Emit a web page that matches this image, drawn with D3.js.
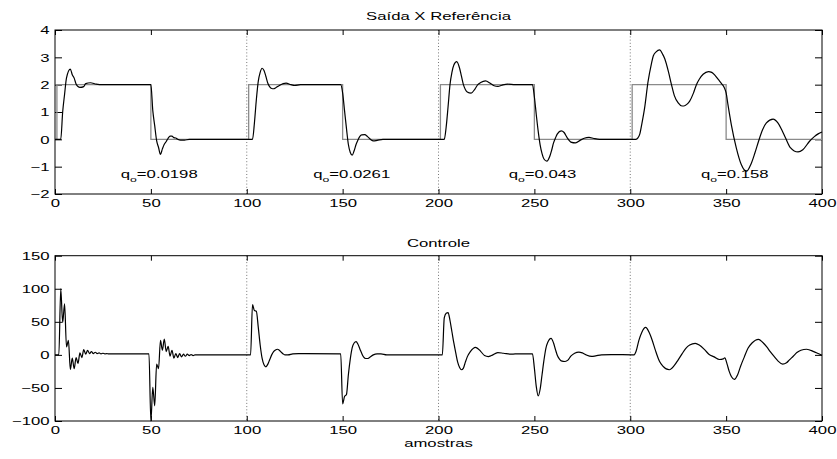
<!DOCTYPE html>
<html>
<head>
<meta charset="utf-8">
<script src="https://cdn.jsdelivr.net/npm/d3@7"></script>
<style>
  body { margin: 0; background: #fff; }
  svg text { font-family: "Liberation Sans", Arial, Helvetica, sans-serif; font-size: 11px; fill: #000; }
</style>
</head>
<body>
<svg id="chart" width="837" height="459"></svg>
<script>
// ---- data -------------------------------------------------------------
const xTicks = [0, 50, 100, 150, 200, 250, 300, 350, 400];
const outYTicks = [-2, -1, 0, 1, 2, 3, 4];
const ctrlYTicks = [-100, -50, 0, 50, 100, 150];
const sectionBounds = [100, 200, 300];
const qValues = ["0.0198", "0.0261", "0.043", "0.158"];

// reference set-point (step changes)
const refSteps = [[0, 0], [1, 2], [50, 0], [101, 2], [150, 0], [201, 2], [250, 0], [301, 2], [350, 0], [400, 0]];

// plant output [sample, value]
const outputSamples = [
  [0,0],[3,0],[4,1.0],[5,1.65],[6,2.25],[8,2.57],[9,2.36],[10,2.24],[11,2.02],[12,1.93],[13,1.9],[15,1.93],[16,2.04],[18.5,2.07],[21.5,2.02],[25,2.0],[50,2.0],
  [51,1.05],[52,0.5],[53,-0.05],[54,-0.3],[55,-0.55],[56,-0.35],[57,-0.18],[58,-0.08],[59,0.04],[60,0.12],[61,0.12],[62,0.06],[63,0.05],[64,0.0],[65.5,-0.03],[67.5,-0.03],[70,0],[103,0],
  [104,0.6],[105,1.45],[106,2.12],[107,2.45],[108,2.6],[109,2.52],[110,2.3],[111,2.05],[112,1.92],[113,1.86],[114,1.85],[115,1.88],[117,1.97],[119,2.04],[120.5,2.06],[123,2.0],[125,1.97],[128,2.0],[149,2.0],
  [150,1.7],[151,1.05],[152,0.4],[153,-0.19],[154,-0.48],[155,-0.58],[156,-0.42],[157,-0.19],[158,-0.02],[159,0.11],[160,0.16],[161.5,0.17],[163,0.1],[164.5,0.0],[166,-0.06],[168,-0.04],[171,0],[203,0],
  [204,0.45],[205,1.2],[206,2.0],[207,2.45],[208,2.72],[209.5,2.84],[211,2.6],[212,2.3],[213,2.0],[214,1.82],[215,1.73],[217,1.69],[219,1.84],[220.5,2.0],[222,2.08],[224.5,2.14],[227,2.05],[229,1.96],[231,1.94],[233,1.98],[236,2.02],[240,2.0],[249,2.0],
  [250,1.55],[251,0.9],[252,0.29],[253,-0.2],[254,-0.52],[255,-0.72],[256.5,-0.8],[258,-0.63],[259,-0.4],[260,-0.13],[261,0.05],[262,0.2],[264,0.31],[265.5,0.25],[267,0.07],[269,-0.1],[271.5,-0.13],[274,-0.03],[276,0.04],[278.5,0.07],[281,0.03],[284,0],[303,0],
  [304,0.05],[305,0.2],[306,0.55],[307.5,1.15],[309.3,2.12],[311,2.75],[312,3.05],[313.5,3.2],[315.3,3.27],[317,3.1],[318,2.95],[320,2.45],[321.5,2.0],[323,1.6],[325,1.33],[327,1.22],[328,1.22],[329.5,1.28],[331,1.4],[333,1.7],[334.5,2.0],[336,2.2],[338,2.38],[340.8,2.48],[342.5,2.45],[344,2.36],[346,2.18],[347.5,2.05],[349,1.9],
  [350,1.7],[351,1.25],[352.7,0.54],[355.3,-0.31],[357.9,-0.92],[359.5,-1.12],[360.8,-1.16],[363,-0.9],[365,-0.5],[367,-0.05],[369,0.35],[371,0.6],[374.5,0.74],[377,0.6],[379,0.35],[381,0.05],[383.5,-0.3],[387.5,-0.46],[390,-0.38],[393.5,-0.07],[396,0.1],[398,0.2],[400,0.27]
];

// control signal [sample, value]
const controlSamples = [
  [0,0],[2,0],[3,100],[4,49],[5,77],[6,12],[7,22],[8,-22],[9,-5],[10,-21],[11,-4],[12,-13],[13,3],[14,-4],[15,8],[16,1],[17,7],[18,2],[19,5],[20,2],[21,4],[22,2],[23,3],[24,1.5],[25,2.5],[26,1.5],[27,2],[28,1.5],[30,1.5],[49,1.5],
  [50,-100],[51,-49],[52,-77],[53,-14],[54,-21],[55,22],[56,7],[57,24],[58,5],[59,13],[60,-2],[61,7],[62,-5],[63,2],[64,-4],[65,2],[66,-3],[67,1],[68,-2],[69,1],[70,-1],[71,0.5],[72,-1],[73,0],[102,0],
  [103,76],[104,67],[105,66],[106,42],[107,15],[108,-5],[109,-15],[110,-18],[111,-14],[112,-7],[113,0],[114,5],[115,7.5],[116,8.5],[117,7],[118,4],[119,1.5],[120,0],[121.5,0],[124,1.5],[127,2],[130,2],[149,1.5],
  [150,-74],[151,-63],[152,-60],[153,-30],[154,-6],[155,11],[156,18],[157,20],[158,16],[159,9],[160,2],[161,-3.5],[162,-5.5],[163,-5.5],[164,-4],[166,0],[168,1.5],[170,1.5],[173,0],[202,0],
  [203,56],[204,63],[205,64],[206,52],[207,35],[208,18],[209,3],[210,-11],[211,-19],[212,-22.5],[213,-20],[214,-11],[215,-3],[216.6,5],[219.3,11.5],[222.1,5],[224,-1],[226,-2.5],[227.6,-1],[230.9,3.5],[233.9,2.5],[237.8,1],[240,1.5],[249,1.5],
  [250,-20],[251,-48],[252,-62],[253,-52],[254,-30],[255,-8],[256,10],[257,19],[258.7,25],[260,18],[261,8],[262,-1],[263,-6],[264,-9],[266,-10],[267.5,-8],[269,-2],[271,2.5],[273.2,4.2],[275,3],[277,0],[279.9,-2.4],[282,-1.5],[285,0],[290,0.5],[302,0],
  [303,5],[304.5,22],[306,34],[308,41.5],[310,33],[311.4,22.5],[313,8],[315.3,-10],[317,-17],[320.4,-22.5],[323,-16],[325,-7.5],[327,1.5],[329,10],[331,15],[333.9,17.5],[336,15],[338.9,7.5],[341,1],[343.8,-3],[346.5,-7],[348.5,-6],[349.3,-4.5],
  [350.5,-14],[351.6,-25],[352.8,-33],[354.3,-37],[356,-30],[357.5,-17.5],[359.5,-3],[361.4,10],[363.5,18],[366.9,23.5],[369,19],[371.2,12],[373,5],[375.1,-2.5],[377,-9],[379.5,-14],[381.5,-12],[383,-7.5],[385,-2],[386.9,3.5],[389,7],[392,8.5],[395.7,5],[398,2],[400,-0.5]
];

// ---- layout -----------------------------------------------------------
const SX = 1.52;            // horizontal stretch of the lettering
const svg = d3.select("#chart");
const x = d3.scaleLinear().domain([0, 400]).range([55, 822]);
const yOut = d3.scaleLinear().domain([-2, 4]).range([194, 30]);
const yCtrl = d3.scaleLinear().domain([-100, 150]).range([421, 255.7]);

function stretched(sel, px, py) {
  return sel.attr("transform", `translate(${px},${py}) scale(${SX},1)`);
}

function drawFrame(y, yTicks) {
  const [y0, y1] = y.range();   // bottom, top
  const g = svg.append("g");

  // section separators
  g.selectAll("line.sep").data(sectionBounds).join("line")
    .attr("class", "sep")
    .attr("x1", d => x(d)).attr("x2", d => x(d))
    .attr("y1", y1).attr("y2", y0)
    .attr("stroke", "#777").attr("stroke-width", 1)
    .attr("stroke-dasharray", "1,2.2");

  const fmt = d3.format("d");
  // bottom axis with labels
  g.append("g").attr("transform", `translate(0,${y0})`)
    .call(d3.axisBottom(x).tickValues(xTicks).tickSizeInner(-5).tickSizeOuter(0).tickFormat(fmt))
    .call(a => {
      a.select(".domain").remove();
      a.selectAll(".tick line").attr("stroke", "#000");
      a.selectAll("text").attr("y", 13.5).attr("dy", null)
        .attr("transform", `scale(${SX},1)`);
    });
  // top axis, ticks only
  g.append("g").attr("transform", `translate(0,${y1})`)
    .call(d3.axisTop(x).tickValues(xTicks).tickSizeInner(-5).tickSizeOuter(0).tickFormat(""))
    .call(a => { a.select(".domain").remove(); a.selectAll(".tick line").attr("stroke", "#000"); });
  // left axis with labels
  g.append("g").attr("transform", `translate(${x.range()[0]},0)`)
    .call(d3.axisLeft(y).tickValues(yTicks).tickSizeInner(-7).tickSizeOuter(0).tickFormat(fmt))
    .call(a => {
      a.select(".domain").remove();
      a.selectAll(".tick line").attr("stroke", "#000");
      a.selectAll("text").attr("x", -5.5 / SX).attr("dy", "0.36em")
        .attr("transform", `scale(${SX},1)`);
    });
  // right axis, ticks only
  g.append("g").attr("transform", `translate(${x.range()[1]},0)`)
    .call(d3.axisRight(y).tickValues(yTicks).tickSizeInner(-7).tickSizeOuter(0).tickFormat(""))
    .call(a => { a.select(".domain").remove(); a.selectAll(".tick line").attr("stroke", "#000"); });

  // box
  g.append("rect")
    .attr("x", x.range()[0]).attr("y", y1)
    .attr("width", x.range()[1] - x.range()[0]).attr("height", y0 - y1)
    .attr("fill", "none").attr("stroke", "#000").attr("stroke-width", 1);
  return g;
}

// ---- upper panel: output vs reference ----------------------------------
const gTop = drawFrame(yOut, outYTicks);

gTop.append("path")
  .datum(refSteps)
  .attr("fill", "none").attr("stroke", "#8a8a8a").attr("stroke-width", 1.3)
  .attr("d", d3.line().x(d => x(d[0])).y(d => yOut(d[1])).curve(d3.curveStepAfter));

gTop.append("path")
  .datum(outputSamples)
  .attr("fill", "none").attr("stroke", "#000").attr("stroke-width", 1.2)
  .attr("stroke-linejoin", "round")
  .attr("d", d3.line().x(d => x(d[0])).y(d => yOut(d[1])).curve(d3.curveMonotoneX));

// q0 annotations, one per section
const qStart = [34.3, 134.7, 236.6, 336.9];
qValues.forEach((q, i) => {
  const t = stretched(gTop.append("text"), x(qStart[i]), yOut(-1.43));
  t.append("tspan").text("q");
  t.append("tspan").attr("font-size", "8px").style("font-size", "8px").attr("dy", 4).text("o");
  t.append("tspan").attr("dy", -4).text("=" + q);
});

stretched(svg.append("text"), (x.range()[0] + x.range()[1]) / 2, 20)
  .attr("text-anchor", "middle").text("Saída X Referência");

// ---- lower panel: control signal ---------------------------------------
const gBot = drawFrame(yCtrl, ctrlYTicks);

gBot.append("path")
  .datum(controlSamples)
  .attr("fill", "none").attr("stroke", "#000").attr("stroke-width", 1.2)
  .attr("stroke-linejoin", "round")
  .attr("d", d3.line().x(d => x(d[0])).y(d => yCtrl(d[1])).curve(d3.curveMonotoneX));

stretched(svg.append("text"), (x.range()[0] + x.range()[1]) / 2, 246.5)
  .attr("text-anchor", "middle").text("Controle");

stretched(svg.append("text"), (x.range()[0] + x.range()[1]) / 2, 446.5)
  .attr("text-anchor", "middle").text("amostras");
</script>
</body>
</html>
